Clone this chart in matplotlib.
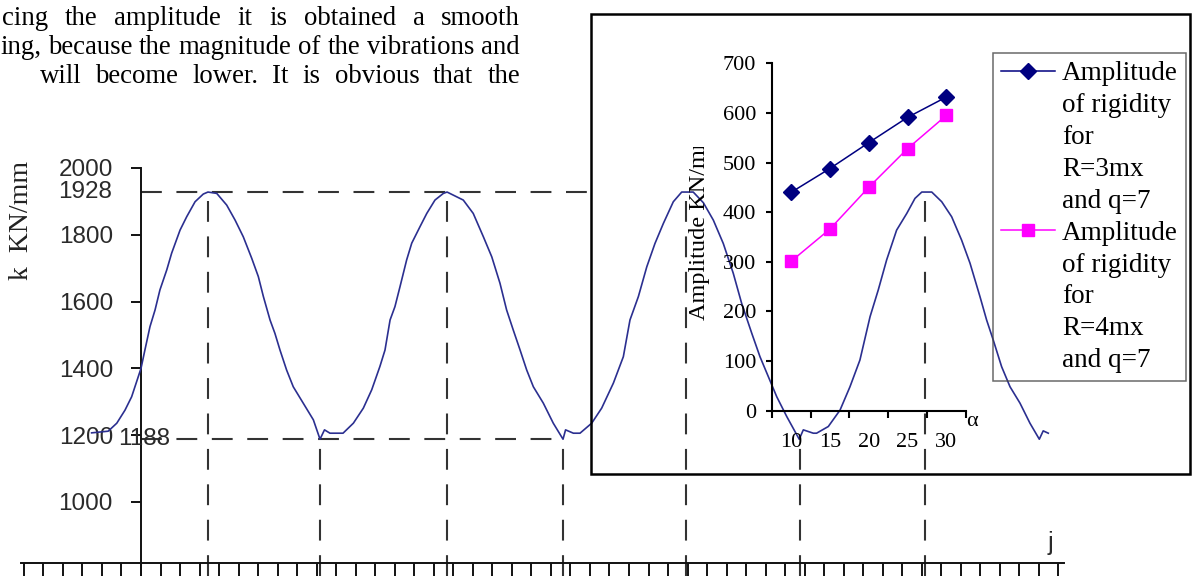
import numpy as np
import matplotlib
matplotlib.use("Agg")
import matplotlib.pyplot as plt
from matplotlib.lines import Line2D
from matplotlib.patches import Rectangle
from matplotlib.transforms import Bbox, TransformedBbox

# ---- data ----
# main curve: k (KN/mm) against j
j_vals = [-2.53, -1.68, -1.24, -0.82, -0.48, 0.0, 0.20, 0.46, 0.72, 0.97, 1.32, 1.57, 2.00, 2.34,
          2.77, 3.19, 3.43, 3.88, 4.39, 4.82, 5.24, 5.67, 6.01, 6.27, 6.61, 6.86, 7.12, 7.46, 7.80,
          8.31, 8.83, 9.17, 9.40, 9.68, 10.35, 10.88, 11.39, 11.82, 12.24, 12.50, 12.76, 13.01,
          13.27, 13.61, 13.87, 14.29, 14.64, 15.06, 15.49, 15.68, 16.51, 17.02, 17.54, 17.97,
          18.39, 18.73, 19.07, 19.42, 19.76, 20.10, 20.61, 21.12, 21.62, 21.75, 22.15, 22.49,
          23.09, 23.60, 24.20, 24.71, 25.05, 25.48, 25.91, 26.33, 26.76, 27.27, 27.70, 28.29,
          28.81, 29.32, 29.83, 30.34, 30.77, 31.29, 31.71, 32.14, 32.57, 33.08, 33.72, 33.93,
          34.44, 34.61, 35.21, 35.81, 36.32, 36.83, 37.35, 37.77, 38.20, 38.71, 39.23, 39.65,
          40.00, 40.51, 41.02, 41.53, 42.04, 42.47, 42.98, 43.32, 43.66, 44.09, 44.52, 45.03,
          45.54, 46.02, 46.22, 46.48]
k_vals = [1207, 1212, 1236, 1275, 1315, 1400, 1455, 1525, 1575, 1635, 1695, 1745, 1814, 1854,
          1899, 1922, 1928, 1924, 1889, 1844, 1794, 1730, 1675, 1615, 1545, 1505, 1455, 1395, 1345,
          1296, 1246, 1188, 1216, 1206, 1206, 1236, 1281, 1336, 1406, 1455, 1545, 1585,
          1645, 1725, 1775, 1824, 1864, 1904, 1924, 1928, 1904, 1864, 1794, 1734,
          1655, 1575, 1515, 1455, 1395, 1345, 1296, 1236, 1188, 1216, 1206, 1206,
          1236, 1281, 1356, 1435, 1545, 1615, 1704, 1774, 1834, 1899, 1928, 1928,
          1896, 1844, 1774, 1685, 1595, 1505, 1435, 1375, 1315, 1256, 1188, 1216,
          1206, 1206, 1226, 1275, 1345, 1425, 1555, 1635, 1725, 1814, 1864, 1909,
          1928, 1928, 1899, 1854, 1784, 1715, 1615, 1545, 1485, 1405, 1345, 1296,
          1236, 1188, 1213, 1206]
peak_j = [3.43, 15.68, 27.92, 40.16]
min_j = [9.17, 21.62, 33.76]
k_max, k_min = 1928, 1188
k_ticks = [1000, 1200, 1400, 1600, 1800, 2000]
j_ticks = list(range(-6, 48))

# inset: amplitude of rigidity against alpha
alpha = [10, 15, 20, 25, 30]
amp_r3 = [440, 488, 540, 591, 632]
amp_r4 = [301, 366, 450, 528, 595]
amp_ticks = list(range(0, 701, 100))
label_r3 = ["Amplitude", "of rigidity", "for", "R=3mx", "and q=7"]
label_r4 = ["Amplitude", "of rigidity", "for", "R=4mx", "and q=7"]

text_lines = [
    ["cing", "the", "amplitude", "it", "is", "obtained", "a", "smooth"],
    ["ing,", "because", "the", "magnitude", "of", "the", "vibrations", "and"],
    ["will", "become", "lower.", "It", "is", "obvious", "that", "the"],
]

W, H = 1193, 576
SERIF = "Liberation Serif"
SANS = "Liberation Sans"
plt.rcParams["font.family"] = [SERIF, "DejaVu Sans"]

fig = plt.figure(figsize=(W / 100, H / 100), dpi=100)

# ---- main chart ----
ax = fig.add_axes([0, 0, 1, 1])
ax.patch.set_visible(False)
ax.set_xlim(-141 / 19.52, (W - 141) / 19.52)
ybot = 1000 - 74 / 0.334
ax.set_ylim(ybot, 2000 + 168 / 0.334)
for s in ["top", "right"]:
    ax.spines[s].set_visible(False)
ax.spines["left"].set_position(("data", 0))
ax.spines["left"].set_bounds(ybot, 2000)
ax.spines["bottom"].set_position(("data", 817))
ax.spines["bottom"].set_bounds(-6.15, 47.3)
for s in ["left", "bottom"]:
    ax.spines[s].set_linewidth(1.4)
    ax.spines[s].set_color("#111111")

ax.set_xticks(j_ticks)
ax.tick_params(axis="x", direction="out", length=9.4, width=1.4, labelbottom=False, color="#111111")
ax.set_yticks(k_ticks)
ax.tick_params(axis="y", direction="out", length=7.2, width=1.4, pad=13, labelsize=17.5,
               color="#111111", labelcolor="#2a2a2a")
for lbl in ax.get_yticklabels():
    lbl.set_fontfamily(SANS)

dash = (0, (10, 7))
ax.vlines(peak_j, ybot, k_max, colors="#333333", linestyles=dash, lw=1.5)
ax.vlines(min_j, ybot, k_min, colors="#333333", linestyles=dash, lw=1.5)
ax.hlines(k_max, 0, 23.3, colors="#333333", linestyles=dash, lw=1.5)
ax.hlines(k_min, 0, min_j[1], colors="#333333", linestyles=dash, lw=1.5)

ax.plot(j_vals, k_vals, color="#2b2f90", lw=1.2, zorder=3)

ax.text(-1.49, k_max, str(k_max), ha="right", va="center", family=SANS, size=17.5, color="#2a2a2a")
ax.text(0.15, k_min, str(k_min), ha="center", va="center", family=SANS, size=17.5, color="#2a2a2a")
ax.text(46.57, 877, "j", ha="center", va="center", family=SANS, size=18, color="#2a2a2a")
fig.text(22 / W, 1 - 220 / H, "k  KN/mm", rotation=90, ha="center", va="center",
         family=SERIF, size=20, color="#222222")

# ---- paragraph text above the chart (justified) ----
renderer = fig.canvas.get_renderer()
line_specs = [(2, 520, 25), (0, 520, 54), (40, 520, 83)]
for words, (x0, x1, base) in zip(text_lines, line_specs):
    arts = [fig.text(0, 1 - base / H, w, family=SERIF, size=19.3, va="baseline") for w in words]
    widths = [a.get_window_extent(renderer).width for a in arts]
    gap = (x1 - x0 - sum(widths)) / (len(words) - 1)
    x = x0
    for a, wd in zip(arts, widths):
        a.set_x(x / W)
        x += wd + gap

# ---- inset chart ----
fig.add_artist(Rectangle((591 / W, 1 - 474 / H), (1190 - 591) / W, (474 - 14) / H,
                         transform=fig.transFigure, fill=False, lw=1.8, ec="black"))

ax2 = fig.add_axes([771.7 / W, 1 - 410.7 / H, 194 / W, (410.7 - 63.3) / H])
ax2.patch.set_visible(False)
ax2.set_xlim(0, len(alpha))
ax2.set_ylim(0, 700)
for s in ["top", "right"]:
    ax2.spines[s].set_visible(False)
for s in ["left", "bottom"]:
    ax2.spines[s].set_linewidth(1.5)
ax2.set_yticks(amp_ticks)
ax2.tick_params(axis="y", direction="out", length=4.3, width=1.5, pad=7, labelsize=16)
xpos = np.arange(len(alpha)) + 0.5
ax2.set_xticks(np.arange(len(alpha) + 1))
ax2.set_xticklabels([])
ax2.set_xticks(xpos, minor=True)
ax2.set_xticklabels([str(a) for a in alpha], minor=True)
ax2.tick_params(axis="x", which="major", direction="out", length=5, width=1.5)
ax2.tick_params(axis="x", which="minor", length=0, pad=16, labelsize=16)

ax2.plot(xpos, amp_r3, color="#000080", marker="D", ms=8, lw=1.1)
ax2.plot(xpos, amp_r4, color="#ff00ff", marker="s", ms=9, lw=1.1)
ax2.text(5.16, -21, "α", ha="center", va="center", size=16, clip_on=False)

ylab = fig.text(700 / W, 1 - 320 / H, "Amplitude KN/mm", rotation=90, ha="center", va="bottom",
                family=SERIF, size=17.5)
ylab.set_clip_on(True)
ylab.set_clip_box(TransformedBbox(Bbox([[0, 0], [1, 1 - 147 / H]]), fig.transFigure))

blank = Line2D([], [], linestyle="none")
h3 = Line2D([], [], color="#000080", marker="D", ms=8, lw=1.1)
h4 = Line2D([], [], color="#ff00ff", marker="s", ms=9, lw=1.1)
handles = [h3] + [blank] * 4 + [h4] + [blank] * 4
leg = ax2.legend(handles, label_r3 + label_r4, loc="upper left",
                 bbox_to_anchor=(993 / W, 1 - 53 / H), bbox_transform=fig.transFigure,
                 borderaxespad=0, fancybox=False, edgecolor="#444444", facecolor="none",
                 borderpad=0.3, handlelength=2.0, handletextpad=0.25, labelspacing=0.255,
                 numpoints=1, prop={"family": SERIF, "size": 19.5})
leg.get_frame().set_linewidth(1.1)

fig.savefig("out.png", dpi=100)
